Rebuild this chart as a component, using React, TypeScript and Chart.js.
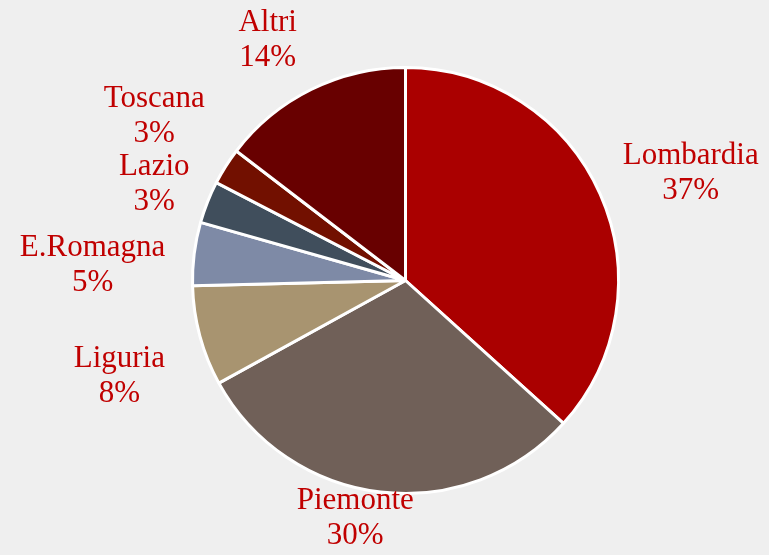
import React, { useEffect, useRef } from "react";
import { Chart, registerables } from "chart.js";

Chart.register(...registerables);

const categories = ["Lombardia", "Piemonte", "Liguria", "E.Romagna", "Lazio", "Toscana", "Altri"];
const values = [36.7, 30.3, 7.6, 4.8, 3.2, 2.8, 14.6];
const percentLabels = ["37%", "30%", "8%", "5%", "3%", "3%", "14%"];
const sliceColors = ["#AA0000", "#706058", "#A89470", "#7E8AA6", "#404E5C", "#721000", "#680000"];
// label placement: radius factor and angle tweak (degrees) relative to slice mid-angle
const labelRadius = [1.431, 1.142, 1.417, 1.471, 1.263, 1.409, 1.299];
const labelAngleTweak = [3.3, 5.27, -3.43, -4.38, -0.68, 0.76, -3.6];

const labelPlugin = {
  id: "outerLabels",
  afterDatasetsDraw(chart: any) {
    const ctx = chart.ctx;
    const meta = chart.getDatasetMeta(0);
    ctx.save();
    ctx.font = "31px 'Liberation Serif', 'Times New Roman', serif";
    ctx.fillStyle = "#C00000";
    ctx.textAlign = "center";
    ctx.textBaseline = "middle";
    const total = values.reduce((a, b) => a + b, 0);
    let acc = 0;
    meta.data.forEach((arc: any, i: number) => {
      const p = arc.getProps(["x", "y", "outerRadius"], true);
      const start = -Math.PI / 2 + (acc / total) * 2 * Math.PI;
      acc += values[i];
      const end = -Math.PI / 2 + (acc / total) * 2 * Math.PI;
      const mid = (start + end) / 2 + (labelAngleTweak[i] * Math.PI) / 180;
      const r = p.outerRadius * labelRadius[i];
      const cx = p.x + Math.cos(mid) * r;
      const cy = p.y + Math.sin(mid) * r;
      ctx.fillText(categories[i], cx, cy - 17.5);
      ctx.fillText(percentLabels[i], cx, cy + 17.5);
    });
    ctx.restore();
  },
};

export default function App() {
  const ref = useRef<HTMLCanvasElement>(null);
  useEffect(() => {
    document.body.style.margin = "0";
    const chart = new Chart(ref.current!, {
      type: "pie",
      data: {
        labels: categories,
        datasets: [
          {
            data: values,
            backgroundColor: sliceColors,
            borderColor: "#FFFFFF",
            borderWidth: 3,
          },
        ],
      },
      options: {
        animation: false,
        responsive: false,
        layout: { padding: { left: 191, right: 149, top: 66, bottom: 60 } },
        plugins: {
          legend: { display: false },
          tooltip: { enabled: false },
        },
      },
      plugins: [labelPlugin],
    });
    return () => chart.destroy();
  }, []);
  return (
    <div style={{ width: 769, height: 555, background: "#EFEFEF" }}>
      <canvas ref={ref} width={769} height={555} style={{ display: "block" }} />
    </div>
  );
}
